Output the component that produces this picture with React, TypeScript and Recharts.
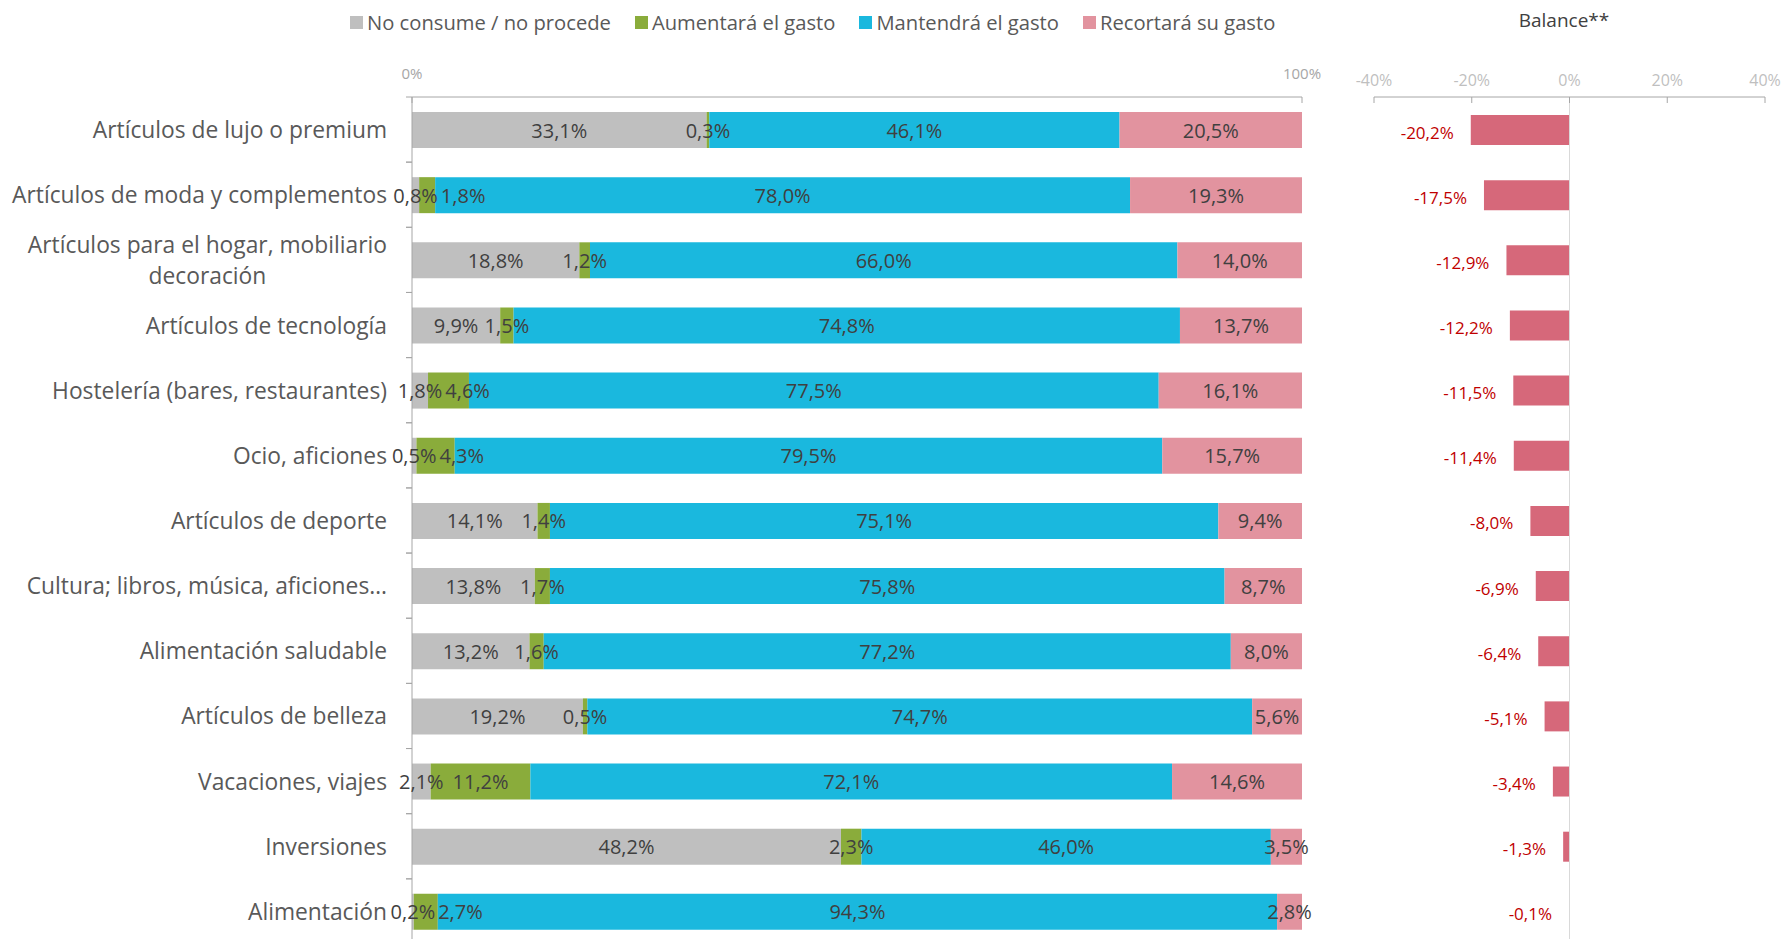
import React from "react";
import { BarChart, Bar, XAxis, YAxis, LabelList, ReferenceLine } from "recharts";

const categories = [
  "Artículos de lujo o premium",
  "Artículos de moda y complementos",
  "Artículos para el hogar, mobiliario\ndecoración",
  "Artículos de tecnología",
  "Hostelería (bares, restaurantes)",
  "Ocio, aficiones",
  "Artículos de deporte",
  "Cultura; libros, música, aficiones…",
  "Alimentación saludable",
  "Artículos de belleza",
  "Vacaciones, viajes",
  "Inversiones",
  "Alimentación",
];
const noConsume = [33.1, 0.8, 18.8, 9.9, 1.8, 0.5, 14.1, 13.8, 13.2, 19.2, 2.1, 48.2, 0.2];
const aumentara = [0.3, 1.8, 1.2, 1.5, 4.6, 4.3, 1.4, 1.7, 1.6, 0.5, 11.2, 2.3, 2.7];
const mantendra = [46.1, 78.0, 66.0, 74.8, 77.5, 79.5, 75.1, 75.8, 77.2, 74.7, 72.1, 46.0, 94.3];
const recortara = [20.5, 19.3, 14.0, 13.7, 16.1, 15.7, 9.4, 8.7, 8.0, 5.6, 14.6, 3.5, 2.8];
const balance = [-20.2, -17.5, -12.9, -12.2, -11.5, -11.4, -8.0, -6.9, -6.4, -5.1, -3.4, -1.3, -0.1];

const mainTicks = [0, 1];
const balanceTicks = [-40, -20, 0, 20, 40];

const series = [
  { key: "grey", name: "No consume / no procede", color: "#bfbfbf", values: noConsume },
  { key: "green", name: "Aumentará el gasto", color: "#8aac3b", values: aumentara },
  { key: "blue", name: "Mantendrá el gasto", color: "#1ab8de", values: mantendra },
  { key: "pink", name: "Recortará su gasto", color: "#e2939f", values: recortara },
];

const rows = categories.map((cat, i) => ({
  cat,
  grey: noConsume[i],
  green: aumentara[i],
  blue: mantendra[i],
  pink: recortara[i],
  balance: balance[i],
}));

const FONT = '"Open Sans", sans-serif';
const CHART_H = 944;
const TOP = 97;
const Y_W = 412;
const BAND = (CHART_H - TOP) / categories.length;
const LABEL_SIZE = 20;
const CAT_SIZE = 22.8;

const fmt = (v: number) => v.toFixed(1).replace(".", ",") + "%";

let ctx: CanvasRenderingContext2D | null = null;
function measure(s: string, size: number) {
  if (!ctx) ctx = document.createElement("canvas").getContext("2d");
  if (!ctx) return s.length * size * 0.55;
  ctx.font = `${size}px "Open Sans"`;
  return ctx.measureText(s).width;
}

function CatTick(props: any) {
  const { x, y, payload } = props;
  const lines = String(payload.value).split("\n");
  const lx = x + 19;
  const rx = x + 25;
  const tickLines = (
    <>
      <line x1={lx} x2={rx} y1={y - BAND / 2} y2={y - BAND / 2} stroke="#a6a6a6" />
      <line x1={lx} x2={rx} y1={y + BAND / 2} y2={y + BAND / 2} stroke="#a6a6a6" />
    </>
  );
  if (lines.length === 1) {
    return (
      <g>
        {tickLines}
        <text x={x} y={y} textAnchor="end" dominantBaseline="central" fill="#595959" fontSize={CAT_SIZE} fontFamily={FONT}>
          {lines[0]}
        </text>
      </g>
    );
  }
  const w = Math.max(...lines.map((l) => measure(l, CAT_SIZE)));
  const cx = x - w / 2;
  return (
    <g>
      {tickLines}
      {lines.map((l, i) => (
        <text key={i} x={cx} y={y + (i - (lines.length - 1) / 2) * 31} textAnchor="middle" dominantBaseline="central" fill="#595959" fontSize={CAT_SIZE} fontFamily={FONT}>
          {l}
        </text>
      ))}
    </g>
  );
}

function segLabel(key: string) {
  return (props: any) => {
    const vb = props.viewBox && props.viewBox.width !== undefined ? props.viewBox : props;
    const { x, y, width, height } = vb;
    const v = Number(props.value);
    if (!isFinite(v)) return null;
    const text = fmt(v);
    let cx = x + width / 2;
    if (key === "green" && props.index !== undefined) {
      const gw = measure(text, LABEL_SIZE);
      const greyText = fmt(noConsume[props.index]);
      const greyRight = (Y_W + x) / 2 + measure(greyText, LABEL_SIZE) / 2;
      if (cx - gw / 2 < greyRight + 3) cx = greyRight + 3 + gw / 2;
    }
    return (
      <text x={cx} y={y + height / 2} textAnchor="middle" dominantBaseline="central" fill="#404040" fontSize={LABEL_SIZE} fontFamily={FONT}>
        {text}
      </text>
    );
  };
}

function BalanceLabel(props: any) {
  const vb = props.viewBox && props.viewBox.width !== undefined ? props.viewBox : props;
  const { x, y, width, height } = vb;
  const v = Number(props.value);
  const left = Math.min(x, x + width);
  return (
    <text x={left - 17} y={y + height / 2 + 2} textAnchor="end" dominantBaseline="central" fill="#c00000" fontSize={17} fontFamily={FONT}>
      {fmt(v)}
    </text>
  );
}

export default function App() {
  return (
    <div style={{ position: "absolute", left: 0, top: 0, width: 1783, height: 939, overflow: "hidden", background: "#fff", fontFamily: FONT }}>
      <div style={{ position: "absolute", left: 350, top: 8, display: "flex", alignItems: "center", fontSize: 20.2, color: "#595959", whiteSpace: "nowrap" }}>
        {series.map((s) => (
          <div key={s.key} style={{ display: "flex", alignItems: "center", marginRight: 24 }}>
            <span style={{ width: 13, height: 13, background: s.color, marginRight: 4, display: "inline-block" }} />
            <span>{s.name}</span>
          </div>
        ))}
      </div>
      <div style={{ position: "absolute", left: 1564, top: 7, transform: "translateX(-50%)", fontSize: 19, color: "#404040", whiteSpace: "nowrap" }}>
        Balance**
      </div>

      <div style={{ position: "absolute", left: 0, top: 0 }}>
        <BarChart width={1340} height={CHART_H} data={rows} layout="vertical" stackOffset="expand" margin={{ top: 40, right: 38, bottom: 0, left: 0 }}>
          <XAxis
            type="number"
            orientation="top"
            domain={[0, 1]}
            ticks={mainTicks}
            interval={0}
            height={57}
            tickFormatter={(v: number) => `${Math.round(v * 100)}%`}
            axisLine={{ stroke: "#a6a6a6" }}
            tickLine={{ stroke: "#a6a6a6" }}
            tickSize={-6}
            tickMargin={24}
            tick={{ fill: "#a6a6a6", fontSize: 15, fontFamily: FONT }}
          />
          <YAxis
            type="category"
            dataKey="cat"
            width={Y_W}
            interval={0}
            axisLine={{ stroke: "#a6a6a6" }}
            tickLine={false}
            tickSize={6}
            tickMargin={19}
            tick={<CatTick />}
          />
          {series.map((s) => (
            <Bar key={s.key} dataKey={s.key} name={s.name} stackId="a" fill={s.color} barSize={36} isAnimationActive={false}>
              <LabelList dataKey={s.key} content={segLabel(s.key)} />
            </Bar>
          ))}
        </BarChart>
      </div>

      <div style={{ position: "absolute", left: 1340, top: 0 }}>
        <BarChart width={443} height={CHART_H} data={rows} layout="vertical" margin={{ top: 40, right: 18, bottom: 0, left: 34 }}>
          <XAxis
            type="number"
            orientation="top"
            domain={[-40, 40]}
            ticks={balanceTicks}
            interval={0}
            height={57}
            tickFormatter={(v: number) => `${v}%`}
            axisLine={{ stroke: "#a6a6a6" }}
            tickLine={{ stroke: "#a6a6a6" }}
            tickSize={-6}
            tickMargin={17}
            tick={{ fill: "#bfbfbf", fontSize: 16, fontFamily: FONT }}
          />
          <YAxis type="category" dataKey="cat" hide />
          <ReferenceLine x={0} stroke="#d9d9d9" ifOverflow="extendDomain" />
          <Bar dataKey="balance" fill="#d6687a" barSize={30} isAnimationActive={false}>
            <LabelList dataKey="balance" content={BalanceLabel} />
          </Bar>
        </BarChart>
      </div>
    </div>
  );
}
